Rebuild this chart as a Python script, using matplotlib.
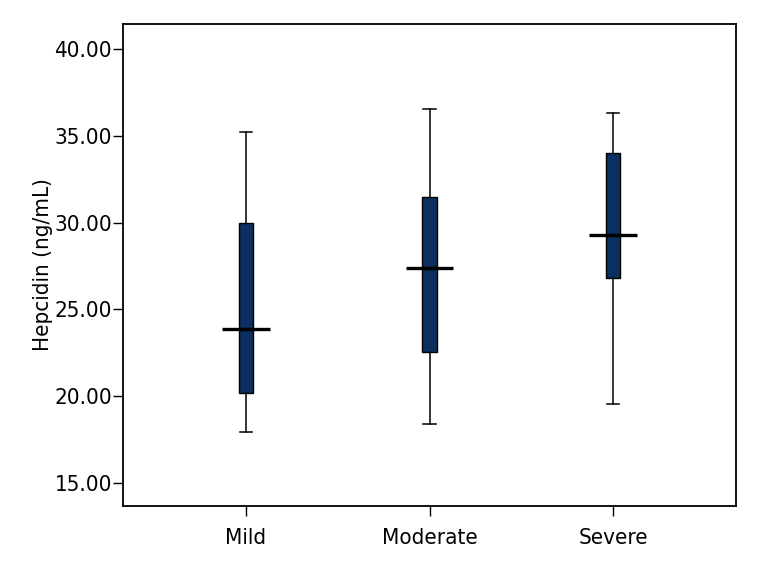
import matplotlib
matplotlib.use("Agg")
import matplotlib.pyplot as plt

plt.rcParams['font.family'] = ['DejaVu Sans']
plt.rcParams['font.stretch'] = 'condensed'

groups = ["Mild", "Moderate", "Severe"]
whisker_low = [17.94, 18.42, 19.55]
q1 = [20.17, 22.53, 26.83]
median = [23.85, 27.40, 29.30]
q3 = [29.96, 31.47, 34.03]
whisker_high = [35.20, 36.53, 36.33]
yticks = [15, 20, 25, 30, 35, 40]

stats = []
for i, g in enumerate(groups):
    stats.append(dict(label=g, whislo=whisker_low[i], q1=q1[i], med=median[i],
                      q3=q3[i], whishi=whisker_high[i], fliers=[]))

fig = plt.figure(figsize=(7.68, 5.76), dpi=100)
ax = fig.add_axes([123/768, 1-506/576, (736-123)/768, (506-24)/576])

ax.bxp(stats, positions=[1, 2, 3], widths=0.078, patch_artist=True,
       showfliers=False, capwidths=0.067,
       boxprops=dict(facecolor="#0b2f5e", edgecolor="black", linewidth=1.0),
       whiskerprops=dict(color="black", linewidth=1.1),
       capprops=dict(color="black", linewidth=1.1),
       medianprops=dict(color="black", linewidth=2.4))

# median bars stick out wider than the box
for i, m in enumerate(median):
    ax.hlines(m, i + 1 - 0.13, i + 1 + 0.13, color="black", linewidth=2.4, zorder=5)

ax.set_xlim(0.33, 3.67)
ax.set_ylim(13.68, 41.44)
ax.set_yticks(yticks)
ax.set_yticklabels([f"{v:.2f}" for v in yticks])
ax.set_xticks([1, 2, 3])
ax.set_xticklabels(groups)
ax.tick_params(axis="both", labelsize=16, length=7, width=1.0, direction="out")
ax.tick_params(axis="y", pad=1)
ax.tick_params(axis="x", pad=9)
for s in ax.spines.values():
    s.set_linewidth(1.3)
ax.set_ylabel("Hepcidin (ng/mL)", fontsize=16, labelpad=1)

fig.savefig("out.png", dpi=100)
